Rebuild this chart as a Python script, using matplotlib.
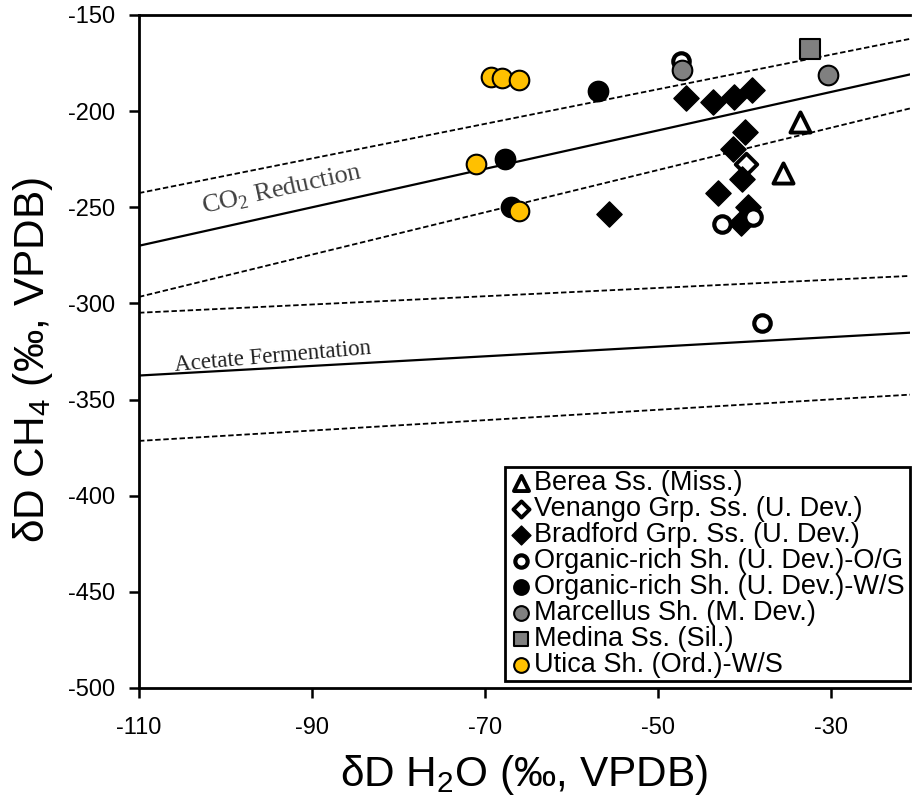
import numpy as np
import matplotlib.pyplot as plt

plt.rcParams['font.family'] = ['Liberation Sans', 'DejaVu Sans']
plt.rcParams['axes.unicode_minus'] = False

# values: dD H2O (x) and dD CH4 (y), permil VPDB
berea_x = [-33.6, -35.6]
berea_y = [-205.5, -232.3]
venango_x = [-39.8]
venango_y = [-227.5]
bradford_x = [-46.8, -43.7, -41.2, -39.2, -40.0, -41.4, -40.3, -43.1, -55.7, -40.4, -39.6]
bradford_y = [-193.3, -195.1, -192.8, -189.0, -210.7, -219.8, -235.4, -242.4, -253.6, -258.3, -249.7]
org_og_x = [-47.4, -42.6, -39.0, -38.0]
org_og_y = [-173.8, -258.7, -254.9, -310.3]
org_ws_x = [-57.0, -67.7, -67.0]
org_ws_y = [-189.4, -225.0, -249.7]
marcellus_x = [-47.3, -30.4]
marcellus_y = [-178.6, -181.2]
medina_x = [-32.5]
medina_y = [-167.9]
utica_x = [-69.3, -68.1, -66.1, -71.1, -66.1]
utica_y = [-182.2, -182.6, -183.6, -227.5, -251.8]

# reference lines dD CH4 = slope * dD H2O + intercept (upper, centre, lower)
co2_slope = [0.9, 1.0, 1.1]
co2_icpt = [-143.6, -160.0, -175.6]
acet_slope = [0.215, 0.25, 0.27]
acet_icpt = [-281.2, -310.0, -341.8]

x_ticks = [-110, -90, -70, -50, -30]
x_labels = ['-110', '-90', '-70', '-50', '-30']
y_ticks = [-150, -200, -250, -300, -350, -400, -450, -500]

fig = plt.figure(figsize=(9.13, 8.02), dpi=100)
ax = fig.add_axes([139 / 913, 1 - 688 / 802, 771 / 913, 673 / 802])

xmin, xmax = -110, -20.9
xl = np.array([xmin, xmax])
for slopes, icpts in [(co2_slope, co2_icpt), (acet_slope, acet_icpt)]:
    for i in range(3):
        if i == 1:
            ax.plot(xl, slopes[i] * xl + icpts[i], color='black', lw=1.6, zorder=1)
        else:
            ax.plot(xl, slopes[i] * xl + icpts[i], color='black', lw=1.3,
                    ls=(0, (3, 1.5)), zorder=1)

ax.text(-93.5, -241.0, 'CO$_\\mathregular{2}$ Reduction', family='Liberation Serif',
        fontsize=19, color='#404040', rotation=12.5, ha='center', va='center',
        rotation_mode='anchor')
ax.text(-94.5, -328.0, 'Acetate Fermentation', family='Liberation Serif',
        fontsize=16.5, color='#202020', rotation=5, ha='center', va='center',
        rotation_mode='anchor')

ax.scatter(berea_x, berea_y, marker='^', s=210, facecolor='white', edgecolor='black',
           lw=2.8, zorder=3, label='Berea Ss. (Miss.)')
ax.scatter(venango_x, venango_y, marker='D', s=120, facecolor='white', edgecolor='black',
           lw=2.8, zorder=3, label='Venango Grp. Ss. (U. Dev.)')
ax.scatter(bradford_x, bradford_y, marker='D', s=165, facecolor='black', edgecolor='black',
           lw=1, zorder=3, label='Bradford Grp. Ss. (U. Dev.)')
ax.scatter(org_og_x, org_og_y, marker='o', s=140, facecolor='white', edgecolor='black',
           lw=3, zorder=3, label='Organic-rich Sh. (U. Dev.)-O/G')
ax.scatter(org_ws_x, org_ws_y, marker='o', s=200, facecolor='black', edgecolor='black',
           lw=1.5, zorder=3, label='Organic-rich Sh. (U. Dev.)-W/S')
ax.scatter(marcellus_x, marcellus_y, marker='o', s=200, facecolor='#808080', edgecolor='black',
           lw=1.5, zorder=3, label='Marcellus Sh. (M. Dev.)')
ax.scatter(medina_x, medina_y, marker='s', s=190, facecolor='#808080', edgecolor='black',
           lw=1.5, zorder=3, label='Medina Ss. (Sil.)')
ax.scatter(utica_x, utica_y, marker='o', s=200, facecolor='#FFC000', edgecolor='black',
           lw=1.5, zorder=3, label='Utica Sh. (Ord.)-W/S')

ax.set_xlim(xmin, xmax)
ax.set_ylim(-500, -150)
ax.set_xticks(x_ticks, labels=x_labels)
ax.set_yticks(y_ticks)
ax.tick_params(labelsize=17, width=1.8, length=7, direction='out')
ax.tick_params(axis='y', pad=10)
ax.tick_params(axis='x', pad=14)
for side in ['left', 'bottom', 'top']:
    ax.spines[side].set_linewidth(2)
ax.spines['right'].set_visible(False)

ax.set_xlabel('δD H$_\\mathregular{2}$O (‰, VPDB)', fontsize=30.5, labelpad=10)
ax.set_ylabel('δD CH$_\\mathregular{4}$ (‰, VPDB)', fontsize=30.5)
ax.yaxis.set_label_coords(-0.109, 0.487)

leg = ax.legend(loc='lower left', bbox_to_anchor=(0.475, 0.0104, 0.525, 0.32),
                mode='expand', fontsize=19.5, markerscale=0.75, handletextpad=0.05,
                handlelength=0.9, labelspacing=0.0, borderpad=0.12, borderaxespad=0,
                fancybox=False, framealpha=1, edgecolor='black')
leg.get_frame().set_linewidth(2)

fig.savefig('out.png', dpi=100)
